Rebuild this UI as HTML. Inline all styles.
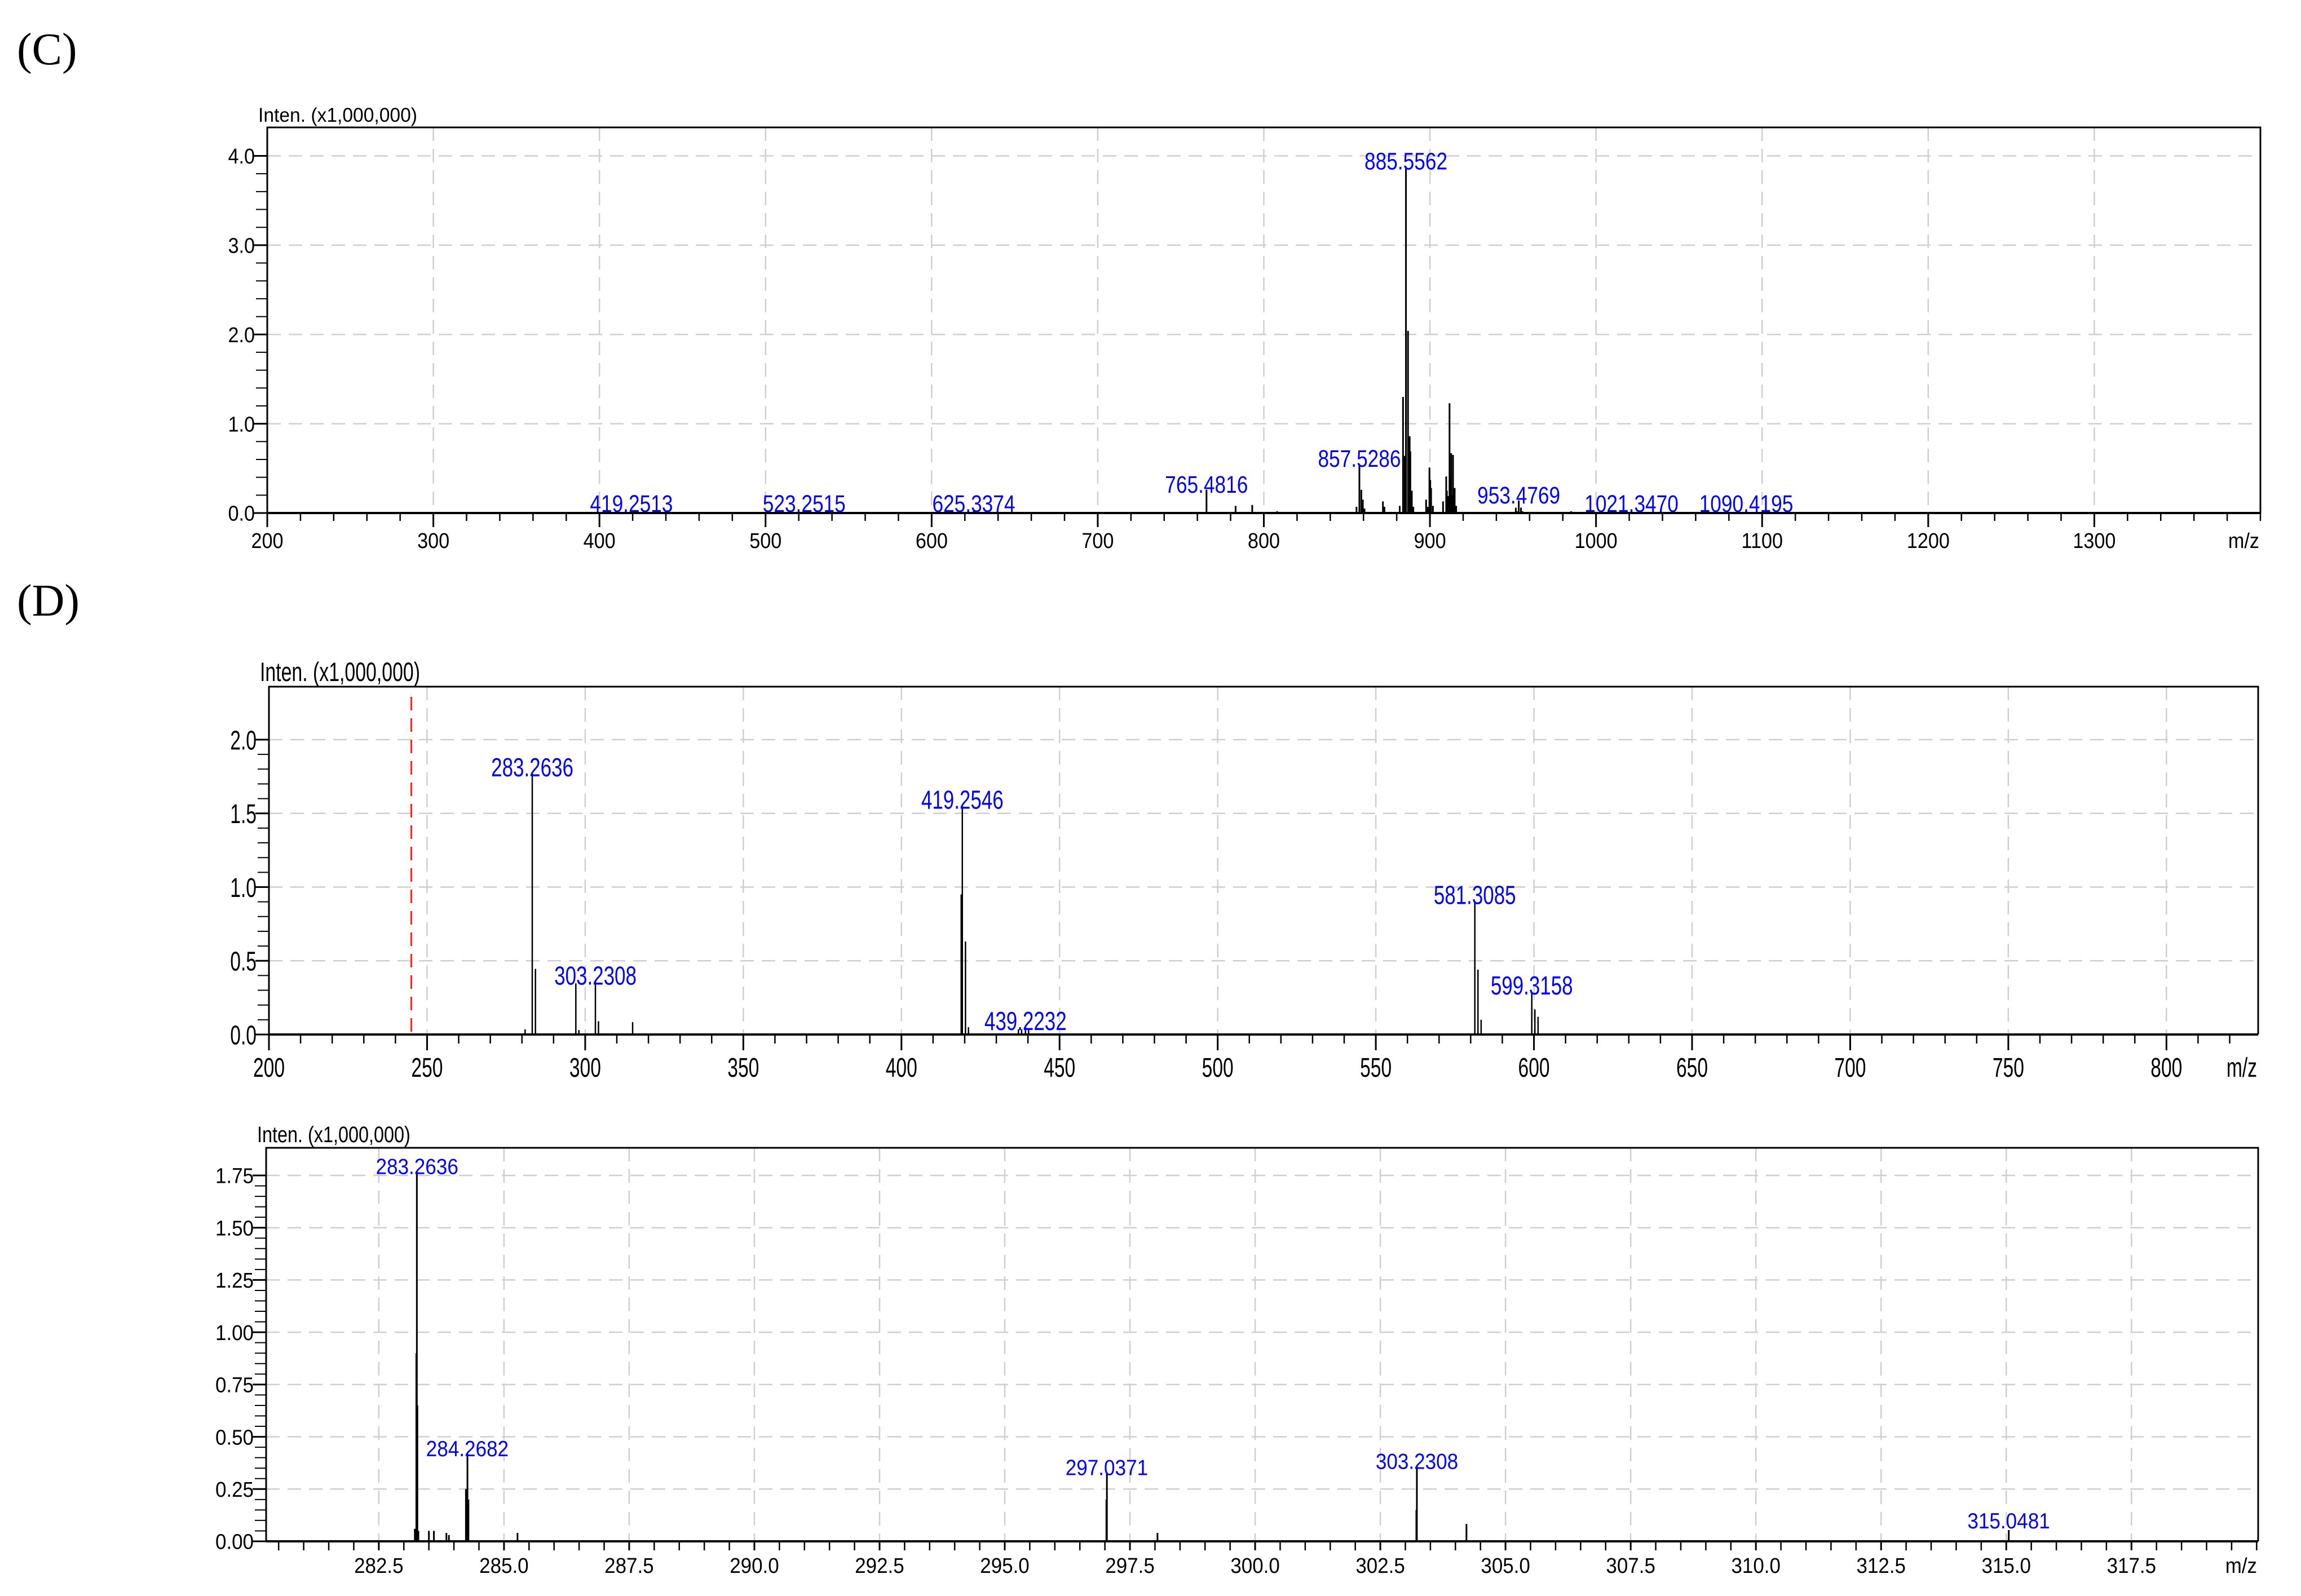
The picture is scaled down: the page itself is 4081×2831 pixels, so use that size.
<!DOCTYPE html>
<html><head><meta charset="utf-8"><style>
html,body{margin:0;padding:0;background:#fff;}
svg{display:block;}
</style></head><body>
<svg id="fig" xmlns="http://www.w3.org/2000/svg" width="4081" height="2831" viewBox="0 0 4081 2831">
<rect x="0" y="0" width="4081" height="2831" fill="#fff"/>
<text x="30" y="114" font-family="Liberation Serif, serif" font-size="80">(C)</text>
<text x="30" y="1092" font-family="Liberation Serif, serif" font-size="80">(D)</text>
</svg>
<script>
// ---- Panel C data ----
const cMz  = [419.25,523.25,625.34,660,690,765.48,783,793,808,855.8,857.53,858.7,859.6,860.6,871.7,872.6,881.8,883.8,884.8,885.56,886.8,887.8,888.2,889.1,890.0,897.7,898.7,899.7,900.2,900.7,901.8,907.9,909.8,910.2,910.9,911.8,912.4,912.8,913.1,913.9,914.9,915.8,951.7,952.8,953.48,954.8,955.7,985,1021.35,1090.42];
const cInt = [0.012,0.01,0.02,0.01,0.01,0.26,0.08,0.09,0.02,0.07,0.55,0.26,0.15,0.05,0.13,0.07,0.08,1.30,0.64,3.88,2.04,0.86,0.69,0.25,0.07,0.15,0.07,0.51,0.37,0.28,0.08,0.13,0.41,0.25,0.19,1.23,0.39,0.67,0.2,0.65,0.28,0.08,0.06,0.02,0.14,0.06,0.02,0.02,0.015,0.012];
const cLabels = ["419.2513","523.2515","625.3374","765.4816","857.5286","885.5562","953.4769","1021.3470","1090.4195"];
const cLabelInt = [0.012,0.01,0.03,0.26,0.55,3.88,0.14,0.015,0.012];
const cXTicks = ["200","300","400","500","600","700","800","900","1000","1100","1200","1300"];
const cYTicks = ["0.0","1.0","2.0","3.0","4.0"];
// ---- Panel D data ----
const dMz  = [281,283.26,284.27,297.04,298.0,303.23,304.2,315.0,418.9,419.25,420.25,421.2,437,438,439.22,440.2,581.31,582.3,583.3,599.32,600.3,601.3];
const dInt = [0.035,1.77,0.445,0.347,0.03,0.357,0.09,0.084,0.95,1.55,0.63,0.05,0.035,0.035,0.05,0.03,0.905,0.44,0.1,0.29,0.17,0.12];
const dLabels = ["283.2636","303.2308","419.2546","439.2232","581.3085","599.3158"];
const dLabelInt = [1.77,0.357,1.55,0.05,0.905,0.29];
const dXTicks = ["200","250","300","350","400","450","500","550","600","650","700","750","800"];
const dYTicks = ["0.0","0.5","1.0","1.5","2.0"];
// ---- Panel E data ----
const eMz  = [283.22,283.25,283.26,283.27,283.29,283.5,283.6,283.85,283.9,284.24,284.27,284.29,285.27,297.03,297.04,298.05,303.22,303.23,304.22,315.05];
const eInt = [0.06,0.9,1.77,0.65,0.05,0.05,0.05,0.04,0.03,0.25,0.42,0.2,0.04,0.2,0.33,0.04,0.15,0.36,0.083,0.054];
const eLabels = ["283.2636","284.2682","297.0371","303.2308","315.0481"];
const eLabelInt = [1.77,0.42,0.33,0.36,0.075];
const eXTicks = ["282.5","285.0","287.5","290.0","292.5","295.0","297.5","300.0","302.5","305.0","307.5","310.0","312.5","315.0","317.5"];
const eYTicks = ["0.00","0.25","0.50","0.75","1.00","1.25","1.50","1.75"];

const NS="http://www.w3.org/2000/svg";
const svg=document.getElementById('fig');
function el(tag,attrs,parent){const e=document.createElementNS(NS,tag);for(const k in attrs)e.setAttribute(k,attrs[k]);(parent||svg).appendChild(e);return e;}
function txt(g,x,y,s,fs,sx,anchor,color,name){
  const t=el('text',{transform:`translate(${x},${y}) scale(${sx},1)`,'font-family':'Liberation Sans, Arial, sans-serif','font-size':fs,'text-anchor':anchor,fill:color},g);
  t.textContent=s;
  
  
  return t;
}

function panel(cfg){
  const g=el('g',{});
  
  
  const X=v=>cfg.L+(v-cfg.xmin)/(cfg.xmax-cfg.xmin)*(cfg.R-cfg.L);
  const Y=v=>cfg.B-(v/cfg.ymax)*(cfg.B-cfg.T0);
  cfg.xt.forEach(s=>{const x=X(parseFloat(s));
    const l=el('line',{x1:x,y1:cfg.T,x2:x,y2:cfg.B,stroke:'#cfcfcf','stroke-width':2.5,'stroke-dasharray':'24 14'},g);
    });
  cfg.yt.forEach(s=>{const v=parseFloat(s);if(v===0)return;const y=Y(v);
    const l=el('line',{x1:cfg.L,y1:y,x2:cfg.R,y2:y,stroke:'#cfcfcf','stroke-width':2.5,'stroke-dasharray':'24 14'},g);
    });
  if(cfg.red!==undefined){const x=X(cfg.red);
    const l=el('line',{x1:x,y1:cfg.T+18,x2:x,y2:cfg.B,stroke:'#ff0000','stroke-width':2.5,'stroke-dasharray':'24 14'},g);
    }
  const f=el('path',{d:`M${cfg.L},${cfg.B} L${cfg.L},${cfg.T} L${cfg.R},${cfg.T} L${cfg.R},${cfg.B}`,fill:'none',stroke:'#000','stroke-width':3},g);
  
  cfg.mz.forEach((m,i)=>{const x=X(m);
    const l=el('line',{x1:x,y1:cfg.B,x2:x,y2:Y(cfg.int[i]),stroke:'#000','stroke-width':cfg.pw},g);
    });
  const b=el('line',{x1:cfg.L,y1:cfg.B,x2:cfg.R,y2:cfg.B,stroke:'#000','stroke-width':4},g);
  
  for(let v=Math.ceil(cfg.xmin/cfg.xminor)*cfg.xminor; v<=cfg.xmax+1e-9; v+=cfg.xminor){
    const x=X(v);if(x<cfg.L-1)continue;
    const l=el('line',{x1:x,y1:cfg.B,x2:x,y2:cfg.B+cfg.minorLen,stroke:'#000','stroke-width':2.5},g);
    }
  cfg.xt.forEach(s=>{const x=X(parseFloat(s));
    const l=el('line',{x1:x,y1:cfg.B,x2:x,y2:cfg.B+cfg.majorLen,stroke:'#000','stroke-width':3},g);
    
    txt(g,x,cfg.xlabY,s,cfg.tfs,cfg.tsx,'middle','#000','x-tick-label');});
  txt(g,cfg.R-2,cfg.xlabY,'m/z',cfg.tfs,cfg.tsx,'end','#000','x-axis-title');
  for(let v=0; v<=cfg.ymax+1e-9; v+=cfg.yminor){const y=Y(v);if(y<cfg.T)break;
    const l=el('line',{x1:cfg.L-20,y1:y,x2:cfg.L,y2:y,stroke:'#000','stroke-width':2},g);
    }
  cfg.yt.forEach(s=>{const y=Y(parseFloat(s));
    const l=el('line',{x1:cfg.L-24,y1:y,x2:cfg.L,y2:y,stroke:'#000','stroke-width':3},g);
    
    txt(g,cfg.L-22,y+cfg.tfs*0.36,s,cfg.tfs,cfg.tsx,'end','#000','y-tick-label');});
  txt(g,cfg.L-16,cfg.T-10,'Inten. (x1,000,000)',cfg.ifs,cfg.isx,'start','#000','y-axis-title');
  cfg.labels.forEach((s,i)=>{const x=X(parseFloat(s));const y=Y(cfg.labInt[i]);
    txt(g,x,Math.min(y+5,cfg.B-2),s,cfg.lfs,cfg.lsx,'middle','#0000ff','peak-label');});
}

panel({name:'spectrum-c',L:474,R:4009,T:226,B:910,T0:276.5,ymax:4.0,xmin:200,xmax:1400,
  xt:cXTicks,yt:cYTicks,mz:cMz,int:cInt,labels:cLabels,labInt:cLabelInt,
  xminor:20,yminor:0.2,minorLen:14,majorLen:25,xlabY:972,pw:3,
  tfs:38,tsx:0.9,lfs:43,lsx:0.82,ifs:35,isx:0.96});
panel({name:'spectrum-d',L:477,R:4005,T:1218,B:1835,T0:1312.0,ymax:2.0,xmin:200,xmax:829,
  xt:dXTicks,yt:dYTicks,mz:dMz,int:dInt,labels:dLabels,labInt:dLabelInt,red:245,
  xminor:10,yminor:0.1,minorLen:16,majorLen:28,xlabY:1910,pw:2.5,
  tfs:48,tsx:0.7,lfs:46,lsx:0.76,ifs:47,isx:0.72});
panel({name:'spectrum-e',L:472,R:4005,T:2036,B:2734,T0:2085,ymax:1.75,xmin:280.25,xmax:320.03,
  xt:eXTicks,yt:eYTicks,mz:eMz,int:eInt,labels:eLabels,labInt:eLabelInt,
  xminor:0.5,yminor:0.05,minorLen:16,majorLen:16,xlabY:2790,pw:3,
  tfs:38,tsx:0.92,lfs:39,lsx:0.9,ifs:40,isx:0.81});
</script>
</body></html>
